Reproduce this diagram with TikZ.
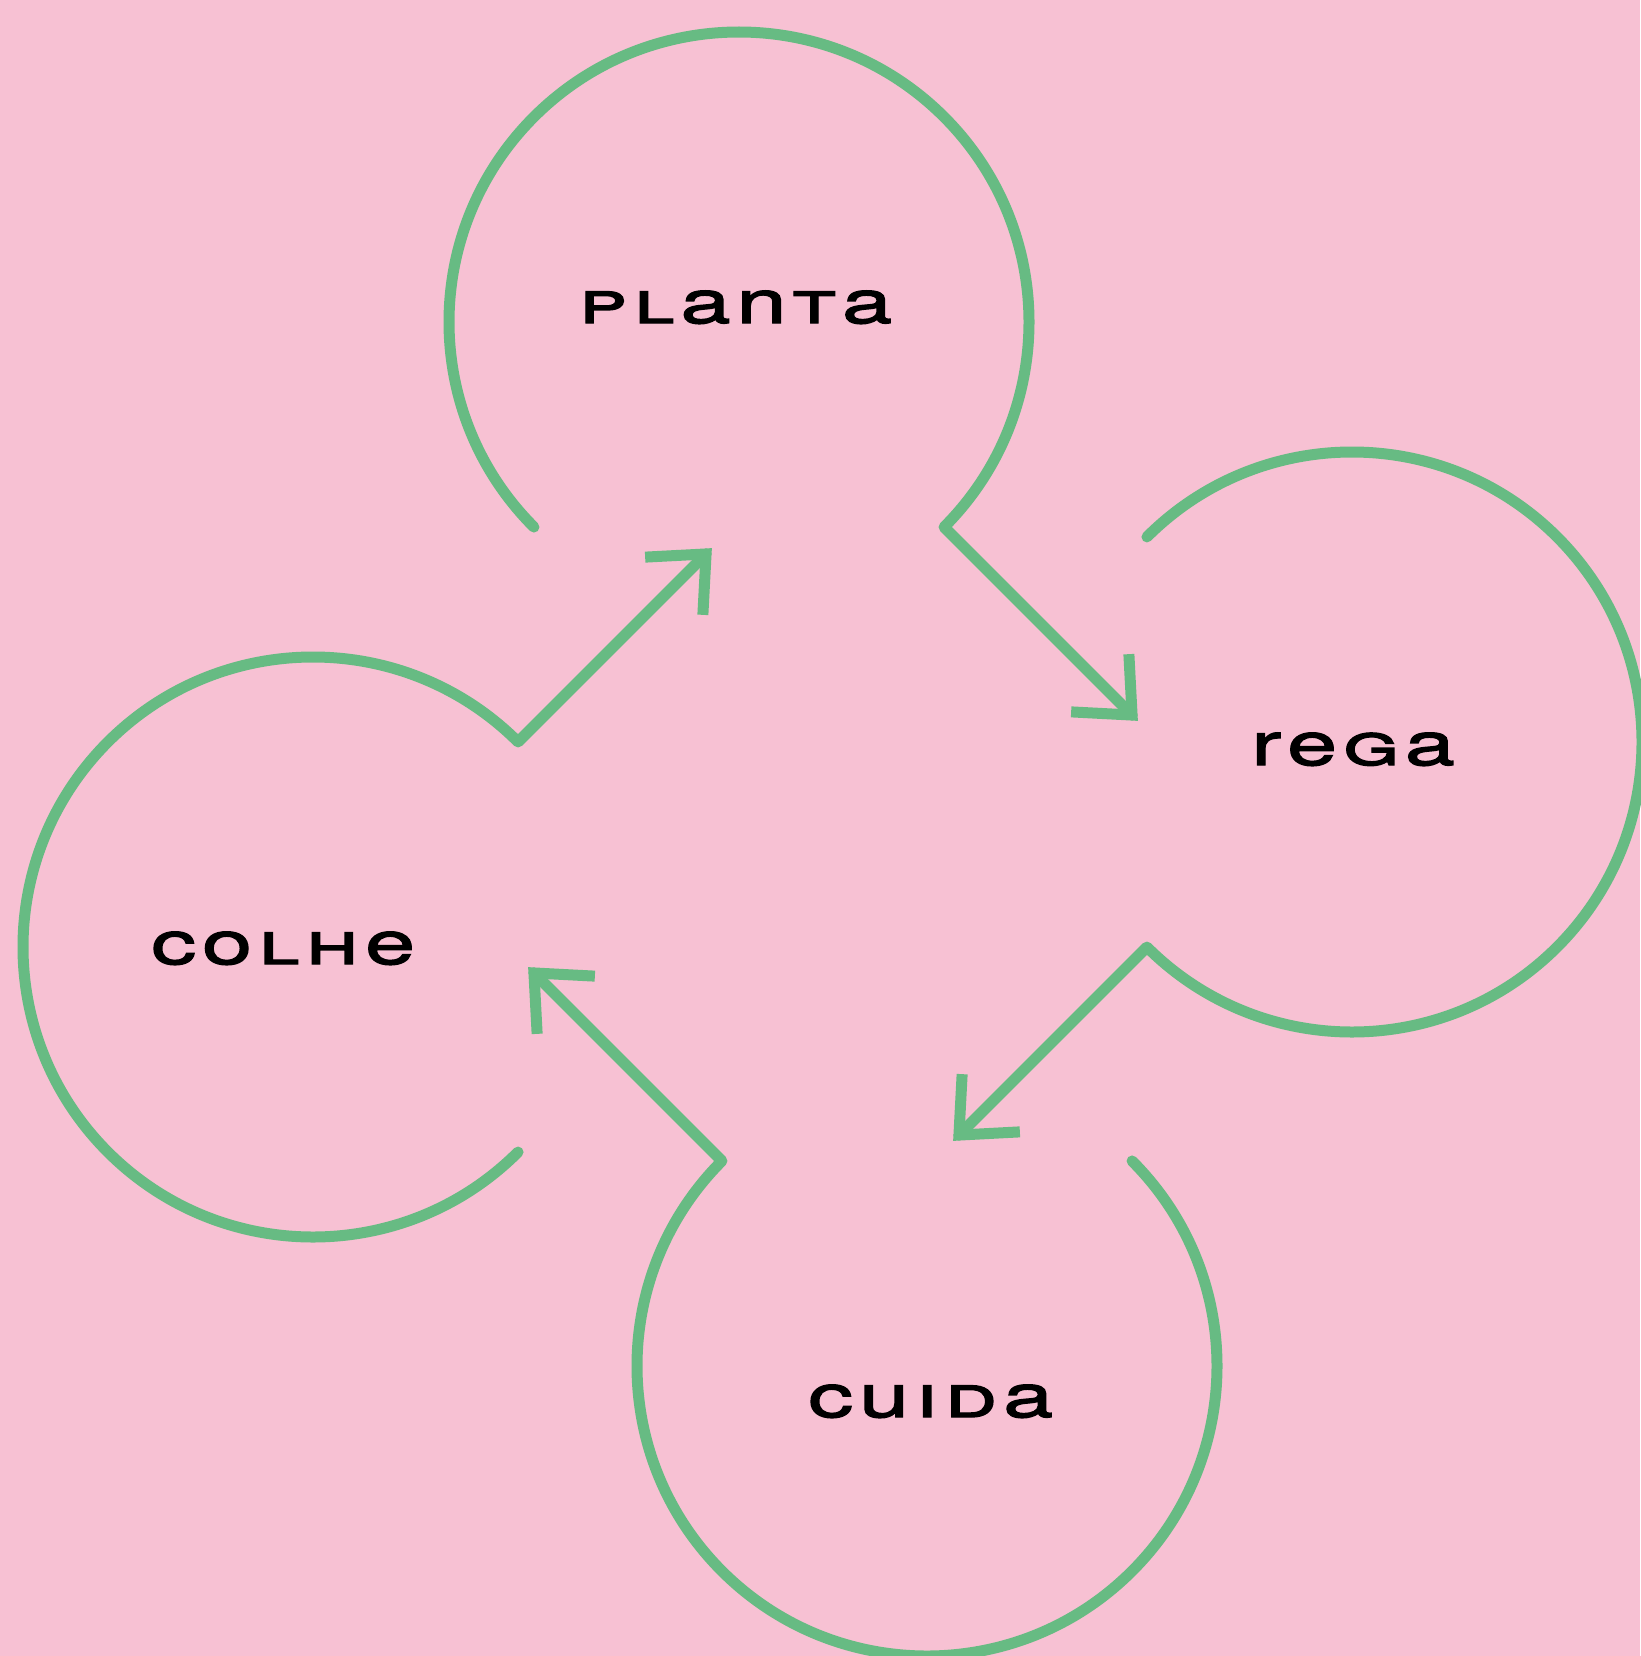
\documentclass[tikz,border=0pt]{standalone}
\usepackage{fontspec}
\usetikzlibrary{calc}
\newfontfamily\lblfont[FakeStretch=1.5,FakeBold=2.2]{TeX Gyre Heros}
\newcommand{\smc}[1]{{\scshape #1}}
\newcommand{\lgap}{\kern 6pt}
\definecolor{bgpink}{RGB}{247,193,211}
\definecolor{leaf}{RGB}{103,187,131}
\begin{document}
\begin{tikzpicture}[x=1pt,y=1pt,
  ring/.style={draw=leaf,line width=11pt,line cap=round,line join=round},
  barb/.style={draw=leaf,line width=11pt,line cap=butt,line join=miter},
  lbl/.style={font=\lblfont\fontsize{60}{60}\selectfont,text=black,inner sep=0pt,anchor=base west}]
\fill[bgpink] (0,0) rectangle (1640,-1656);
\useasboundingbox (0,0) rectangle (1640,-1656);
% circle centres
\coordinate (P) at (739,-322);
\coordinate (R) at (1352,-742);
\coordinate (C) at (927,-1366);
\coordinate (H) at (313,-947);
% line starts
\coordinate (sP) at ($(P)+(-45:290)$);
\coordinate (sR) at ($(R)+(225:290)$);
\coordinate (sC) at ($(C)+(135:290)$);
\coordinate (sH) at ($(H)+(45:290)$);
% tips
\coordinate (tP) at ($(sP)+(188,-188)$);
\coordinate (tR) at ($(sR)+(-188,-188)$);
\coordinate (tC) at ($(sC)+(-188,188)$);
\coordinate (tH) at ($(sH)+(188,188)$);
% rings with connectors
\draw[ring] ($(P)+(225:290)$) arc[start angle=225,end angle=-45,radius=290] -- (tP);
\draw[ring] ($(R)+(135:290)$) arc[start angle=135,end angle=-135,radius=290] -- (tR);
\draw[ring] ($(C)+(45:290)$) arc[start angle=45,end angle=-225,radius=290] -- (tC);
\draw[ring] ($(H)+(-45:290)$) arc[start angle=-45,end angle=-315,radius=290] -- (tH);
% arrowheads
\draw[barb] ($(tP)!61pt!42:(sP)$) -- (tP) -- ($(tP)!61pt!-42:(sP)$);
\draw[barb] ($(tR)!61pt!42:(sR)$) -- (tR) -- ($(tR)!61pt!-42:(sR)$);
\draw[barb] ($(tC)!61pt!42:(sC)$) -- (tC) -- ($(tC)!61pt!-42:(sC)$);
\draw[barb] ($(tH)!61pt!42:(sH)$) -- (tH) -- ($(tH)!61pt!-42:(sH)$);
% labels
\node[lbl] (planta) at (578,-323) {\smc{p}\lgap\smc{l}\lgap a\lgap n\lgap\smc{t}\lgap a};
\node[lbl] (rega) at (1251,-765) {r\lgap e\lgap\smc{g}\lgap a};
\node[lbl] (colhe) at (151,-964) {c\lgap o\lgap\smc{l}\lgap\smc{h}\lgap e};
\node[lbl] (cuida) at (808,-1417) {c\lgap u\lgap\smc{i}\lgap\smc{d}\lgap a};
\end{tikzpicture}
\end{document}
